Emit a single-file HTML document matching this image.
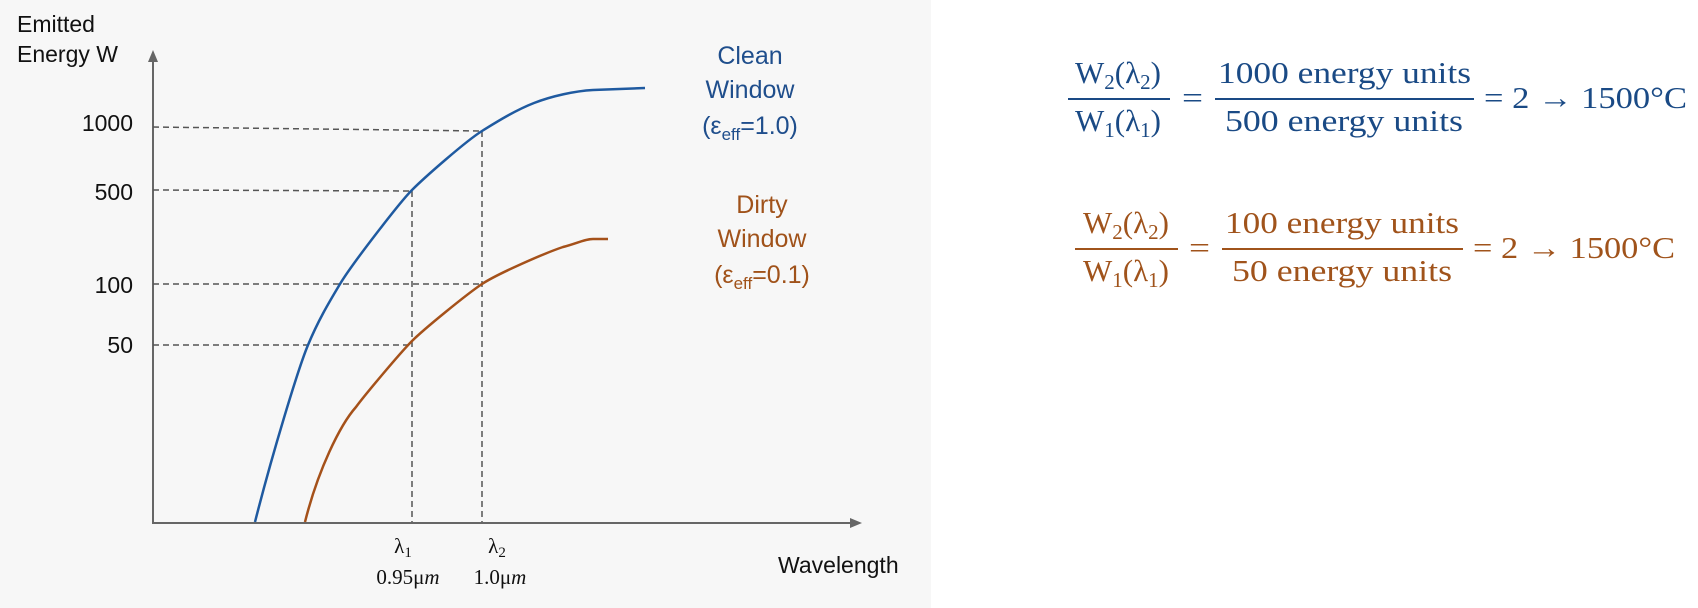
<!DOCTYPE html>
<html><head><meta charset="utf-8"><style>
html,body{margin:0;padding:0;background:#fff;}
svg{display:block;}
.s{font-family:"Liberation Sans",sans-serif;}
.m{font-family:"Liberation Serif",serif;}
</style></head><body>
<svg width="1698" height="608" viewBox="0 0 1698 608" xmlns="http://www.w3.org/2000/svg">
<rect x="0" y="0" width="931" height="608" fill="#f7f7f7"/>
<!-- axes -->
<line x1="153" y1="524" x2="153" y2="60" stroke="#666" stroke-width="2"/>
<polygon points="148,62 158,62 153,50" fill="#666"/>
<line x1="153" y1="523" x2="852" y2="523" stroke="#666" stroke-width="2"/>
<polygon points="850,518 850,528 862,523" fill="#666"/>
<!-- dashed -->
<g stroke="#555" stroke-width="1.5" stroke-dasharray="6,4" fill="none">
<line x1="153" y1="127" x2="482" y2="131"/>
<line x1="482" y1="131" x2="482" y2="522"/>
<line x1="153" y1="190" x2="412" y2="191"/>
<line x1="412" y1="191" x2="412" y2="522"/>
<line x1="153" y1="284" x2="482" y2="284"/>
<line x1="153" y1="345" x2="412" y2="345"/>
</g>
<!-- curves -->
<path d="M255,522 C272,455 298,369 308,345 C318,321 328,304 340,284 C352,264 400,202 412,190 C425,177 466,141 482,131 C498,121 516,110 534,103 C552,96 575,91 593,90 L645,88" fill="none" stroke="#1f5aa0" stroke-width="2.5"/>
<path d="M305,522 C318,470 340,425 356,407 C364,396 400,353 412,341 C424,329 467,294 482,284 C497,274 545,253 563,247 C578,243 585,239 593,239 L608,239" fill="none" stroke="#a5511a" stroke-width="2.5"/>
<!-- labels -->
<g class="s" font-size="23" fill="#111">
<text x="17" y="32">Emitted</text>
<text x="17" y="62">Energy W</text>
<text x="133" y="131" text-anchor="end">1000</text>
<text x="133" y="200" text-anchor="end">500</text>
<text x="133" y="293" text-anchor="end">100</text>
<text x="133" y="353" text-anchor="end">50</text>
<text x="778" y="573">Wavelength</text>
</g>
<g class="s" font-size="25" fill="#1f4e8c" text-anchor="middle">
<text x="750" y="64">Clean</text>
<text x="750" y="98">Window</text>
<text x="750" y="134">(ε<tspan font-size="17" dy="6">eff</tspan><tspan dy="-6">=1.0)</tspan></text>
</g>
<g class="s" font-size="25" fill="#a0521a" text-anchor="middle">
<text x="762" y="213">Dirty</text>
<text x="762" y="247">Window</text>
<text x="762" y="283">(ε<tspan font-size="17" dy="6">eff</tspan><tspan dy="-6">=0.1)</tspan></text>
</g>
<g class="m" font-size="21" fill="#111" text-anchor="middle">
<text x="403" y="553">λ<tspan font-size="15" dy="4">1</tspan></text>
<text x="408" y="584">0.95μ<tspan font-style="italic">m</tspan></text>
<text x="497" y="553">λ<tspan font-size="15" dy="4">2</tspan></text>
<text x="500" y="584">1.0μ<tspan font-style="italic">m</tspan></text>
</g>
<!-- equation 1 -->
<g class="m" font-size="31" fill="#1a4a85">
<text x="1118" y="83" text-anchor="middle">W<tspan font-size="21" dy="6">2</tspan><tspan dy="-6">(λ</tspan><tspan font-size="21" dy="6">2</tspan><tspan dy="-6">)</tspan></text>
<text x="1118" y="131" text-anchor="middle">W<tspan font-size="21" dy="6">1</tspan><tspan dy="-6">(λ</tspan><tspan font-size="21" dy="6">1</tspan><tspan dy="-6">)</tspan></text>
<text x="1182" y="108" textLength="21" lengthAdjust="spacingAndGlyphs">=</text>
<text x="1218" y="83" textLength="253" lengthAdjust="spacingAndGlyphs">1000 energy units</text>
<text x="1225" y="131" textLength="238" lengthAdjust="spacingAndGlyphs">500 energy units</text>
<text x="1484" y="108" textLength="203" lengthAdjust="spacingAndGlyphs">= 2 → 1500°C</text>
</g>
<rect x="1068" y="98" width="102" height="2" fill="#1a4a85"/>
<rect x="1215" y="98" width="259" height="2" fill="#1a4a85"/>
<!-- equation 2 -->
<g class="m" font-size="31" fill="#a0531b">
<text x="1126" y="233" text-anchor="middle">W<tspan font-size="21" dy="6">2</tspan><tspan dy="-6">(λ</tspan><tspan font-size="21" dy="6">2</tspan><tspan dy="-6">)</tspan></text>
<text x="1126" y="281" text-anchor="middle">W<tspan font-size="21" dy="6">1</tspan><tspan dy="-6">(λ</tspan><tspan font-size="21" dy="6">1</tspan><tspan dy="-6">)</tspan></text>
<text x="1189" y="258" textLength="21" lengthAdjust="spacingAndGlyphs">=</text>
<text x="1225" y="233" textLength="234" lengthAdjust="spacingAndGlyphs">100 energy units</text>
<text x="1232" y="281" textLength="220" lengthAdjust="spacingAndGlyphs">50 energy units</text>
<text x="1473" y="258" textLength="202" lengthAdjust="spacingAndGlyphs">= 2 → 1500°C</text>
</g>
<rect x="1075" y="248" width="103" height="2" fill="#a0531b"/>
<rect x="1222" y="248" width="241" height="2" fill="#a0531b"/>
</svg>
</body></html>
